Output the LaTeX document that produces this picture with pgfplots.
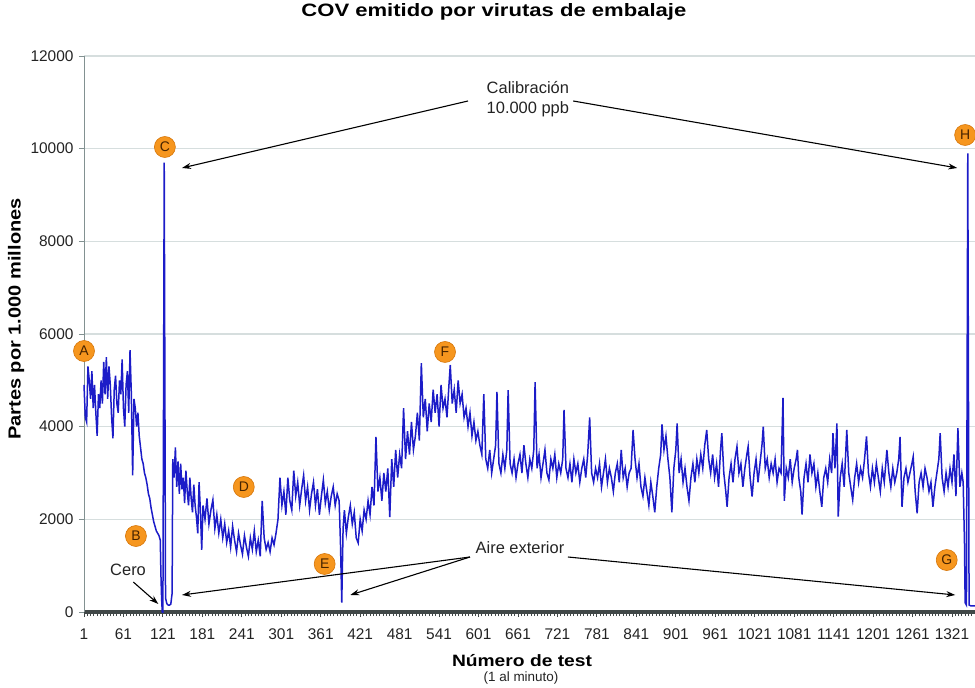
\documentclass[border=0pt]{standalone}
\usepackage{fontspec}
\setmainfont{Liberation Sans}
\usepackage{graphicx}
\usepackage{pgfplots}
\pgfplotsset{compat=1.18}
\usetikzlibrary{arrows.meta}

\definecolor{lineblue}{RGB}{28,28,200}
\definecolor{gridc}{RGB}{214,222,222}
\definecolor{orangec}{RGB}{246,150,30}
\definecolor{orangeb}{RGB}{214,118,10}
\definecolor{txt}{RGB}{35,35,35}
\definecolor{axisdark}{RGB}{65,72,72}
\definecolor{axisgray}{RGB}{130,145,145}

\pgfplotstableread{
x y
1 4900
3 4200
5 4100
7 5300
9 5000
11 4600
13 5200
15 4400
17 4900
19 4300
21 3800
23 4700
25 4400
27 5000
29 4500
31 5400
33 4700
35 5500
37 4600
39 5300
41 4900
43 4200
45 3750
47 4800
49 5100
51 4500
53 4300
55 5000
57 4700
59 5450
61 4400
63 4000
65 4900
67 5200
69 4300
71 5650
73 4700
75 2950
77 4600
79 4400
81 4000
83 4300
85 3800
87 3550
89 3300
91 3200
93 3000
95 2900
97 2750
99 2550
101 2450
103 2250
105 2100
107 1950
109 1850
111 1750
113 1700
115 1650
117 1550
118 800
119 300
120 0
121 0
123 9700
125 300
127 180
129 150
131 150
133 170
135 400
136 3300
138 2900
140 3550
142 2700
144 3250
146 2550
148 3200
150 2650
152 2900
154 2350
156 3050
158 2600
160 2300
162 2900
164 2450
166 2150
168 2750
170 2300
172 2050
174 1700
176 2800
178 2200
180 1340
182 2300
185 2000
188 2450
191 1900
194 2200
197 2420
200 1800
203 2100
206 1700
209 2000
212 1600
215 1900
218 1500
221 1750
224 1400
227 1850
230 1550
233 1300
236 1700
239 1450
242 1250
245 1650
248 1400
251 1200
254 1600
257 1350
260 1750
263 1300
266 1550
269 1200
272 2400
275 1600
278 1350
281 1500
284 1300
287 1600
290 1450
293 1700
296 2000
299 2900
302 2300
305 2600
308 2100
311 2900
314 2400
317 2200
320 3050
323 2500
326 2800
329 2300
332 2650
335 2950
338 2400
341 2700
344 2200
347 2550
350 2800
353 2300
356 2650
359 2100
362 2500
365 2850
368 2350
371 2600
374 2200
377 2500
380 2700
383 2300
386 2550
389 2400
391 1500
393 200
395 1800
397 2200
400 1700
403 2050
406 2300
409 1900
412 2150
415 1600
418 1490
421 2000
424 1750
427 2200
430 2000
433 2400
436 2100
439 2700
442 2300
445 3780
448 2600
451 2900
454 2400
457 3000
460 2600
463 3100
466 2050
469 3300
472 2700
475 3500
478 2900
481 3400
484 3100
487 4400
490 3300
493 3900
496 3400
499 4100
502 3500
505 3800
508 4300
511 3700
514 5370
517 4200
520 4600
523 3900
526 4500
529 4100
532 4800
535 4300
538 4700
541 4000
544 4900
547 4400
550 4600
553 4200
556 4900
558 5330
561 4500
564 4800
567 4300
570 5000
573 4500
576 4700
579 4200
582 4400
585 4000
588 4300
591 3800
594 4100
597 3700
600 3900
603 3600
606 3400
609 4700
612 3300
615 3100
618 3500
621 3000
624 3300
627 3600
629 4750
632 3200
635 3000
638 3400
641 3100
644 3500
646 4790
649 3200
652 3000
655 3300
658 2900
661 3200
664 3400
667 3000
670 3600
673 3200
676 2900
679 3300
682 3100
685 3500
687 4960
690 3100
693 3400
696 2900
699 3200
702 3500
705 3000
708 2850
711 3300
714 3100
717 3400
720 2900
723 3200
726 3000
729 3300
731 4360
734 3100
737 2900
740 3200
743 2800
746 3300
749 3000
752 3200
755 2800
758 3100
761 3300
764 2900
767 3400
770 4200
773 3000
776 2800
779 3100
782 2900
785 3200
788 2700
791 3000
794 3300
797 2800
800 3100
803 2900
806 2600
809 3000
812 3200
815 2800
818 3500
821 2900
824 3100
827 2700
830 3000
833 3100
836 3930
839 3300
842 2900
845 3200
848 2700
851 2500
854 2900
857 2600
860 2300
863 2800
866 2500
869 2150
872 2700
875 3100
878 3400
880 4050
883 3500
886 3800
889 3300
892 2900
895 2150
898 3100
901 3500
903 4070
906 3000
909 3300
912 2800
915 3100
918 2700
921 2400
924 2900
927 3200
930 2800
933 3300
936 3000
939 3400
942 3100
945 3600
948 3930
951 3300
954 3000
957 3400
960 2900
963 3200
966 2700
969 3500
971 3860
974 3000
977 2600
979 2270
982 2900
985 3200
988 2800
991 3300
994 3570
997 3000
1000 3200
1003 2700
1006 3100
1009 3400
1011 3570
1014 2900
1017 2490
1020 3000
1023 3300
1026 2800
1029 3200
1032 3600
1034 4000
1037 3100
1040 3300
1043 2900
1046 3200
1049 3000
1052 3300
1055 2800
1058 3100
1061 3000
1064 4620
1066 2400
1069 3100
1072 2900
1075 3300
1078 2800
1081 3100
1084 3300
1086 3500
1088 2900
1091 2600
1093 2100
1096 2900
1099 3200
1102 2800
1105 3400
1108 3000
1111 3200
1114 2700
1117 3000
1120 2600
1123 2270
1126 2900
1129 3100
1132 2800
1135 3300
1138 3000
1140 3860
1143 3100
1146 4070
1148 2060
1151 2900
1154 3200
1157 2700
1161 3930
1164 3000
1167 2700
1170 2420
1173 2900
1176 3200
1179 2800
1182 3100
1185 2900
1188 3300
1191 3790
1194 3000
1197 2700
1200 3100
1203 2800
1206 3200
1209 2900
1212 2600
1215 3100
1218 2800
1222 3500
1225 3000
1228 2700
1231 3100
1234 2800
1237 3000
1240 3300
1242 3780
1245 2270
1248 2900
1251 3100
1254 2800
1257 3000
1260 3200
1262 3350
1265 2600
1268 2130
1271 2800
1274 3000
1277 2700
1280 3100
1283 2900
1286 2600
1289 2800
1292 2270
1295 2700
1298 3000
1301 3300
1303 3860
1306 2900
1309 2600
1312 3000
1315 2700
1318 3100
1321 2800
1324 3400
1327 2500
1330 3970
1333 2700
1336 3000
1338 2800
1340 1500
1341 200
1343 150
1345 9900
1347 150
1350 130
1356 130
}\covdata

\begin{document}
\begin{tikzpicture}[
  lab/.style={circle, fill=orangec, draw=orangeb, line width=0.6bp, minimum size=21bp, inner sep=0pt, font=\fontsize{14}{14}\selectfont, text={rgb,255:red,70;green,35;blue,0}},
  arr/.style={-{Stealth[length=9bp,width=6bp]}, line width=1.1bp, black},
  ann/.style={font=\fontsize{16.5}{20}\selectfont, text=txt, align=center}
]
\begin{axis}[
  at={(84bp,76bp)}, anchor=south west,
  scale only axis, width=891bp, height=556bp,
  xmin=1, xmax=1356, ymin=0, ymax=12000,
  clip=false,
  axis x line*=bottom, axis y line*=left,
  x axis line style={line width=3bp, color=axisdark},
  y axis line style={line width=0.9bp, color=axisgray},
  xtick={1,61,...,1321},
  minor xtick={1,6,...,1356},
  ytick={0,2000,...,12000},
  scaled y ticks=false, scaled x ticks=false,
  tick align=outside,
  major tick length=5bp, minor tick length=4bp,
  xtick style={color=axisdark, line width=0.9bp},
  minor tick style={color=axisdark, line width=0.9bp},
  ytick style={color=axisgray, line width=0.8bp},
  ymajorgrids,
  major grid style={color=gridc, line width=1.3bp},
  tick label style={font=\fontsize{15.5}{17}\selectfont, text=txt},
  xticklabel style={yshift=-8bp},
  yticklabel style={xshift=-2bp},
  /pgf/number format/assume math mode=true,
  /pgf/number format/1000 sep={},
  title={\scalebox{1.23}[1]{\bfseries COV emitido por virutas de embalaje}},
  title style={at={(axis description cs:0.460,1.068)}, anchor=center, font=\fontsize{18}{20}\selectfont},
  xlabel={\scalebox{1.17}[1]{\bfseries N\'umero de test}},
  xlabel style={at={(axis description cs:0.4916,-0.088)}, anchor=center, font=\fontsize{16.5}{20}\selectfont},
  ylabel={\scalebox{1.15}[1]{\bfseries Partes por 1.000 millones}},
  ylabel style={at={(axis description cs:-0.0763,0.527)}, anchor=center, font=\fontsize{17.5}{20}\selectfont},
]
\addplot[lineblue, line width=1.5bp] table[x=x,y=y] {\covdata};

\node[font=\fontsize{13.5}{15}\selectfont, text=txt] at (axis description cs:0.4905,-0.1187) {(1 al minuto)};

% annotations
\node[ann] at (axis cs:676,11072) {Calibración\\10.000 ppb};
\draw[arr] (axis cs:585,11029) -- (axis cs:150,9583);
\draw[arr] (axis cs:745,11029) -- (axis cs:1329,9583);

\node[ann] at (axis cs:664,1381) {Aire exterior};
\draw[arr] (axis cs:588,1187) -- (axis cs:150,367);
\draw[arr] (axis cs:588,1187) -- (axis cs:406,367);
\draw[arr] (axis cs:737,1187) -- (axis cs:1326,367);

\node[ann] at (axis cs:68,906) {Cero};
\draw[arr] (axis cs:76,647) -- (axis cs:114,173);

\node[lab] at (axis cs:1,5633) {A};
\node[lab] at (axis cs:80,1640) {B};
\node[lab] at (axis cs:124,10036) {C};
\node[lab] at (axis cs:244,2698) {D};
\node[lab] at (axis cs:367,1036) {E};
\node[lab] at (axis cs:550,5612) {F};
\node[lab] at (axis cs:1313,1122) {G};
\node[lab] at (axis cs:1341,10295) {H};
\end{axis}
\pgfresetboundingbox
\path[use as bounding box] (0,0) rectangle (975bp,688bp);
\end{tikzpicture}
\end{document}
